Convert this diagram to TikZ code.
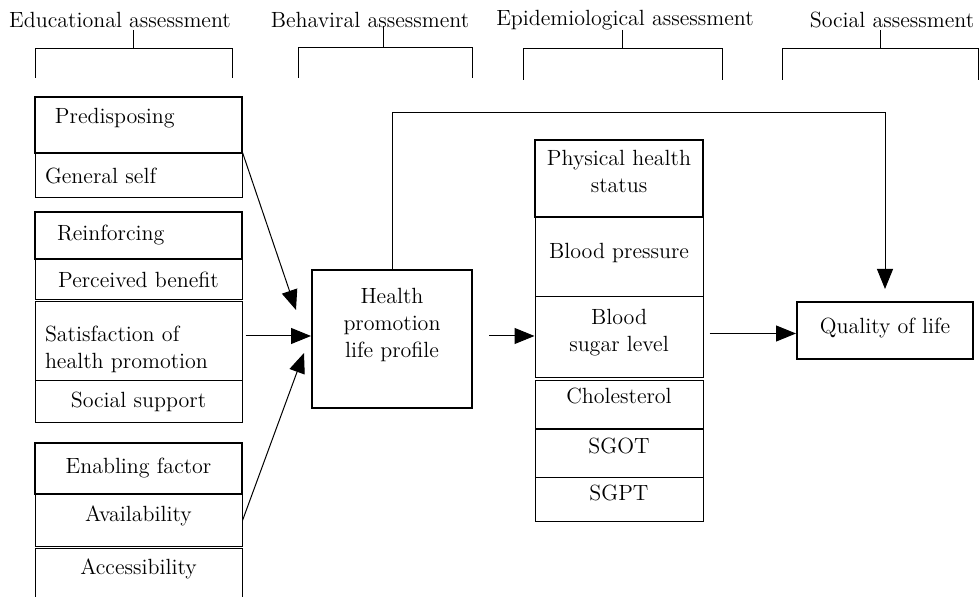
\documentclass[tikz,border=0pt]{standalone}
\usepackage{tikz}
\usetikzlibrary{arrows.meta,positioning,calc}

\tikzset{
  cell/.style={draw, line width=.5pt, inner sep=0pt, align=center},
  thk/.style={cell, line width=1pt},
  lcol/.style={minimum width=103.5pt},
  mcol/.style={minimum width=84pt},
  lcell/.style={text width=93.5pt, inner xsep=5pt, align=left},
  up/.style={text depth=#1},
  link/.style={line width=.5pt, -{Triangle[length=10pt,width=8pt]}},
  bracket/.style={line width=.5pt},
}

\begin{document}
\begin{tikzpicture}[x=0.5pt, y=-0.5pt, font=\fontsize{11}{13.5}\selectfont]
  \useasboundingbox (0,0) rectangle (980,597);

  % assessment headings
  \node (edu) at (120,20) {Educational assessment};
  \node (beh) at (370,20) {Behaviral assessment};
  \node (epi) at (625,20) {Epidemiological assessment};
  \node (socl) at (892,20) {Social assessment};

  \draw[bracket] (35,78) |- (232,49) -- (232,78);
  \draw[bracket] (133,30) -- (133,49);
  \draw[bracket] (298,78) |- (472,48) -- (472,78);
  \draw[bracket] (383,26) -- (383,48);
  \draw[bracket] (523,80) |- (722,49) -- (722,80);
  \draw[bracket] (622,30) -- (622,49);
  \draw[bracket] (782,80) |- (978,49) -- (978,80);
  \draw[bracket] (880,30) -- (880,49);

  % educational factors
  \node[thk, lcol, lcell, minimum height=28pt, up=9pt] (pre) at (138.5,125) {\hspace*{5pt}Predisposing};
  \node[cell, lcol, lcell, minimum height=22.5pt] (gen) at (138.5,175.5) {General self};
  \node[thk, lcol, lcell, minimum height=23.5pt] (rein) at (138.5,235.5) {\hspace*{6pt}Reinforcing};
  \node[cell, lcol, minimum height=20.5pt] (perc) at (138.5,279.5) {Perceived benefit};
  \node[cell, lcol, lcell, minimum height=39.5pt, up=8pt] (sat) at (138.5,341.5) {Satisfaction of\\health promotion};
  \node[cell, lcol, minimum height=21pt] (soc) at (138.5,402) {Social support};
  \node[thk, lcol, minimum height=25.5pt] (enab) at (138.5,468.5) {Enabling factor};
  \node[cell, lcol, minimum height=26.5pt, up=7pt] (avail) at (138.5,520.5) {Availability};
  \node[cell, lcol, minimum height=25.5pt, up=8pt] (acc) at (138.5,574.5) {Accessibility};

  % behaviour
  \node[thk, minimum width=80pt, minimum height=69pt, up=16pt] (hplp) at (392,339) {Health\\promotion\\life profile};

  % physical health status
  \node[thk, mcol, minimum height=38.5pt, up=7pt] (phys) at (619,178.5) {Physical health\\status};
  \node[cell, mcol, minimum height=40pt, up=6pt] (bp) at (619,257) {Blood pressure};
  \node[cell, mcol, minimum height=40.5pt, up=7pt] (bsl) at (619,337.5) {Blood\\sugar level};
  \node[cell, mcol, minimum height=24pt, up=9pt] (chol) at (619,405) {Cholesterol};
  \node[cell, mcol, minimum height=24pt, up=8pt] (sgot) at (619,454) {SGOT};
  \node[cell, mcol, minimum height=22pt, up=7pt] (sgpt) at (619,500) {SGPT};

  % social
  \node[thk, minimum width=88pt, minimum height=28.5pt, up=5pt] (qol) at (885,330.5) {Quality of life};

  % arrows
  \draw[link] (gen.north east) -- ($(hplp.west)+(-15,-29)$);
  \draw[link] ($(sat.east |- hplp.west)+(3,-3)$) -- ($(hplp.west)+(0,-3)$);
  \draw[link] ($(avail.east)+(0,0)$) -- ($(hplp.west)+(-7,14)$);
  \draw[link, shorten <=8pt] ($(hplp.east)+(0,-3)$) -- ($(bsl.west |- hplp.east)+(0,-3)$);
  \draw[link, shorten <=3pt] ($(bsl.east)+(0,-4)$) -- ($(qol.west |- bsl.east)+(0,-4)$);
  \draw[link, shorten >=6pt] (hplp.north) |- (qol.north |- 0,113) -- (qol.north);
\end{tikzpicture}
\end{document}
